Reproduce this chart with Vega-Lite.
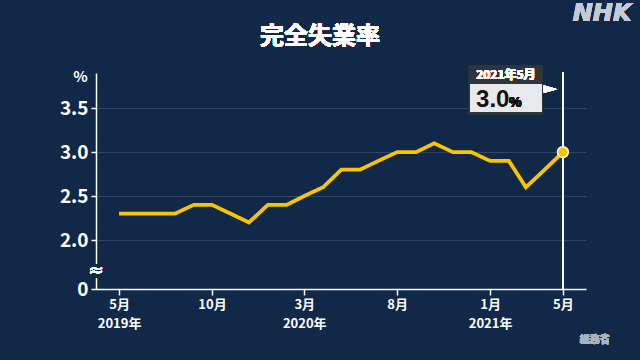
{
  "$schema": "https://vega.github.io/schema/vega-lite/v6.json",
  "width": 490,
  "height": 216,
  "autosize": {"type": "none"},
  "padding": {"left": 96, "top": 73, "right": 54, "bottom": 71},
  "background": "#112848",
  "config": {"view": {"stroke": null}, "font": "Noto Sans CJK JP"},
  "data": {
    "values": [
      {"date": "2019-05-01", "rate": 2.3},
      {"date": "2019-06-01", "rate": 2.3},
      {"date": "2019-07-01", "rate": 2.3},
      {"date": "2019-08-01", "rate": 2.3},
      {"date": "2019-09-01", "rate": 2.4},
      {"date": "2019-10-01", "rate": 2.4},
      {"date": "2019-11-01", "rate": 2.3},
      {"date": "2019-12-01", "rate": 2.2},
      {"date": "2020-01-01", "rate": 2.4},
      {"date": "2020-02-01", "rate": 2.4},
      {"date": "2020-03-01", "rate": 2.5},
      {"date": "2020-04-01", "rate": 2.6},
      {"date": "2020-05-01", "rate": 2.8},
      {"date": "2020-06-01", "rate": 2.8},
      {"date": "2020-07-01", "rate": 2.9},
      {"date": "2020-08-01", "rate": 3.0},
      {"date": "2020-09-01", "rate": 3.0},
      {"date": "2020-10-01", "rate": 3.1},
      {"date": "2020-11-01", "rate": 3.0},
      {"date": "2020-12-01", "rate": 3.0},
      {"date": "2021-01-01", "rate": 2.9},
      {"date": "2021-02-01", "rate": 2.9},
      {"date": "2021-03-01", "rate": 2.6},
      {"date": "2021-04-01", "rate": 2.8},
      {"date": "2021-05-01", "rate": 3.0}
    ]
  },
  "encoding": {
    "x": {
      "field": "date", "type": "temporal",
      "scale": {"type": "utc", "domain": [{"year": 2019, "month": 3, "date": 24, "utc": true}, {"year": 2021, "month": 6, "date": 8, "utc": true}]},
      "axis": {
        "values": [
          {"year": 2019, "month": 5, "date": 1, "utc": true},
          {"year": 2019, "month": 10, "date": 1, "utc": true},
          {"year": 2020, "month": 3, "date": 1, "utc": true},
          {"year": 2020, "month": 8, "date": 1, "utc": true},
          {"year": 2021, "month": 1, "date": 1, "utc": true},
          {"year": 2021, "month": 5, "date": 1, "utc": true}
        ],
        "labelExpr": "(utcmonth(datum.value)==0 || (utcyear(datum.value)==2019 && utcmonth(datum.value)==4) || (utcyear(datum.value)==2020 && utcmonth(datum.value)==2)) ? [(utcmonth(datum.value)+1)+'月', utcyear(datum.value)+'年'] : (utcmonth(datum.value)+1)+'月'",
        "title": null,
        "grid": false,
        "domainColor": "#ffffff", "domainWidth": 1.5,
        "tickColor": "#ffffff", "tickSize": 6, "tickWidth": 1.5,
        "labelColor": "#ffffff", "labelFontSize": 13, "labelFontWeight": "bold",
        "labelLineHeight": 19, "labelPadding": 3, "labelFlush": false, "labelOverlap": false
      }
    },
    "y": {
      "field": "rate", "type": "quantitative",
      "scale": {"domain": [1.443, 3.9], "nice": false, "zero": false},
      "axis": {
        "values": [1.443, 2, 2.5, 3, 3.5],
        "labelExpr": "datum.value < 1.9 ? '0' : format(datum.value, '.1f')",
        "title": "%", "titleAngle": 0, "titleX": -16, "titleY": 3,
        "titleAlign": "center", "titleBaseline": "middle",
        "titleFontSize": 15, "titleFontWeight": "bold", "titleColor": "#ffffff",
        "domainColor": "#ffffff", "domainWidth": 1.5,
        "tickColor": "#ffffff", "tickSize": 5, "tickWidth": 1.5,
        "labelColor": "#ffffff", "labelFontSize": 19, "labelFontWeight": "bold", "labelPadding": 3,
        "grid": true,
        "gridColor": {"condition": {"test": "datum.value < 1.9", "value": "transparent"}, "value": "#2f4566"},
        "gridWidth": 1.2
      }
    }
  },
  "layer": [
    {
      "mark": {"type": "rule", "color": "#ffffff", "strokeWidth": 1.5},
      "encoding": {
        "x": {"datum": {"year": 2021, "month": 5, "date": 1, "utc": true}, "type": "temporal"},
        "y": {"datum": 3.91},
        "y2": {"datum": 1.443}
      }
    },
    {
      "mark": {"type": "line", "color": "#f7c600", "strokeWidth": 3.8}
    },
    {
      "transform": [{"filter": {"field": "date", "equal": {"year": 2021, "month": 5, "date": 1, "utc": true}}}],
      "mark": {"type": "point", "filled": true, "color": "#f7c600", "stroke": "#ffffff", "strokeWidth": 1.5, "size": 120, "opacity": 1}
    },
    {
      "mark": {"type": "rect", "color": "#2e353c"},
      "encoding": {
        "x": {"datum": {"year": 2020, "month": 11, "date": 27, "utc": true}, "type": "temporal"},
        "x2": {"datum": {"year": 2021, "month": 3, "date": 29, "utc": true}},
        "y": {"datum": 3.99},
        "y2": {"datum": 3.43}
      }
    },
    {
      "mark": {"type": "rect", "color": "#e8e9ec"},
      "encoding": {
        "x": {"datum": {"year": 2020, "month": 11, "date": 29, "utc": true}, "type": "temporal"},
        "x2": {"datum": {"year": 2021, "month": 3, "date": 27, "utc": true}},
        "y": {"datum": 3.773},
        "y2": {"datum": 3.455}
      }
    },
    {
      "mark": {"type": "text", "text": "2021年5月", "color": "#ffffff", "fontSize": 12, "fontWeight": "bold", "align": "center", "baseline": "middle"},
      "encoding": {
        "x": {"datum": {"year": 2021, "month": 1, "date": 27, "utc": true}, "type": "temporal"},
        "y": {"datum": 3.875}
      }
    },
    {
      "transform": [{"filter": {"field": "date", "equal": {"year": 2021, "month": 5, "date": 1, "utc": true}}}],
      "mark": {"type": "text", "color": "#111111", "fontSize": 24, "fontWeight": "bold", "align": "left", "baseline": "alphabetic", "font": "Liberation Sans"},
      "encoding": {
        "text": {"field": "rate", "format": ".1f"},
        "x": {"datum": {"year": 2020, "month": 12, "date": 9, "utc": true}, "type": "temporal"},
        "y": {"datum": 3.511}
      }
    },
    {
      "mark": {"type": "text", "text": "%", "color": "#111111", "fontSize": 14, "fontWeight": "bold", "align": "left", "baseline": "alphabetic", "font": "Liberation Sans"},
      "encoding": {
        "x": {"datum": {"year": 2021, "month": 2, "date": 1, "utc": true}, "type": "temporal"},
        "y": {"datum": 3.511}
      }
    },
    {
      "mark": {"type": "point", "shape": "M-1,-0.55L1,0L-1,0.55Z", "filled": true, "color": "#ffffff", "size": 196, "opacity": 1},
      "encoding": {
        "x": {"datum": {"year": 2021, "month": 4, "date": 10, "utc": true}, "type": "temporal"},
        "y": {"datum": 3.716}
      }
    },
    {
      "mark": {"type": "rect", "color": "#112848"},
      "encoding": {
        "x": {"datum": {"year": 2019, "month": 3, "date": 18, "utc": true}, "type": "temporal"},
        "x2": {"datum": {"year": 2019, "month": 3, "date": 30, "utc": true}},
        "y": {"datum": 1.72},
        "y2": {"datum": 1.57}
      }
    },
    {
      "mark": {"type": "text", "text": "≈", "color": "#ffffff", "fontSize": 18, "align": "center", "baseline": "middle", "font": "DejaVu Sans"},
      "encoding": {
        "x": {"datum": {"year": 2019, "month": 3, "date": 24, "utc": true}, "type": "temporal"},
        "y": {"datum": 1.648}
      }
    },
    {
      "mark": {"type": "text", "text": "完全失業率", "color": "#ffffff", "fontSize": 24, "fontWeight": "bold", "align": "center", "baseline": "middle"},
      "encoding": {
        "x": {"datum": {"year": 2020, "month": 3, "date": 27, "utc": true}, "type": "temporal"},
        "y": {"datum": 4.307}
      }
    },
    {
      "mark": {"type": "text", "text": "NHK", "color": "#c5cad3", "fontSize": 24, "fontWeight": "bold", "fontStyle": "italic", "align": "right", "baseline": "middle", "font": "DejaVu Sans"},
      "encoding": {
        "x": {"datum": {"year": 2021, "month": 8, "date": 22, "utc": true}, "type": "temporal"},
        "y": {"datum": 4.568}
      }
    },
    {
      "mark": {"type": "text", "text": "総務省", "color": "#aab3c0", "fontSize": 10, "fontWeight": "bold", "align": "right", "baseline": "middle"},
      "encoding": {
        "x": {"datum": {"year": 2021, "month": 7, "date": 17, "utc": true}, "type": "temporal"},
        "y": {"datum": 0.864}
      }
    }
  ]
}
